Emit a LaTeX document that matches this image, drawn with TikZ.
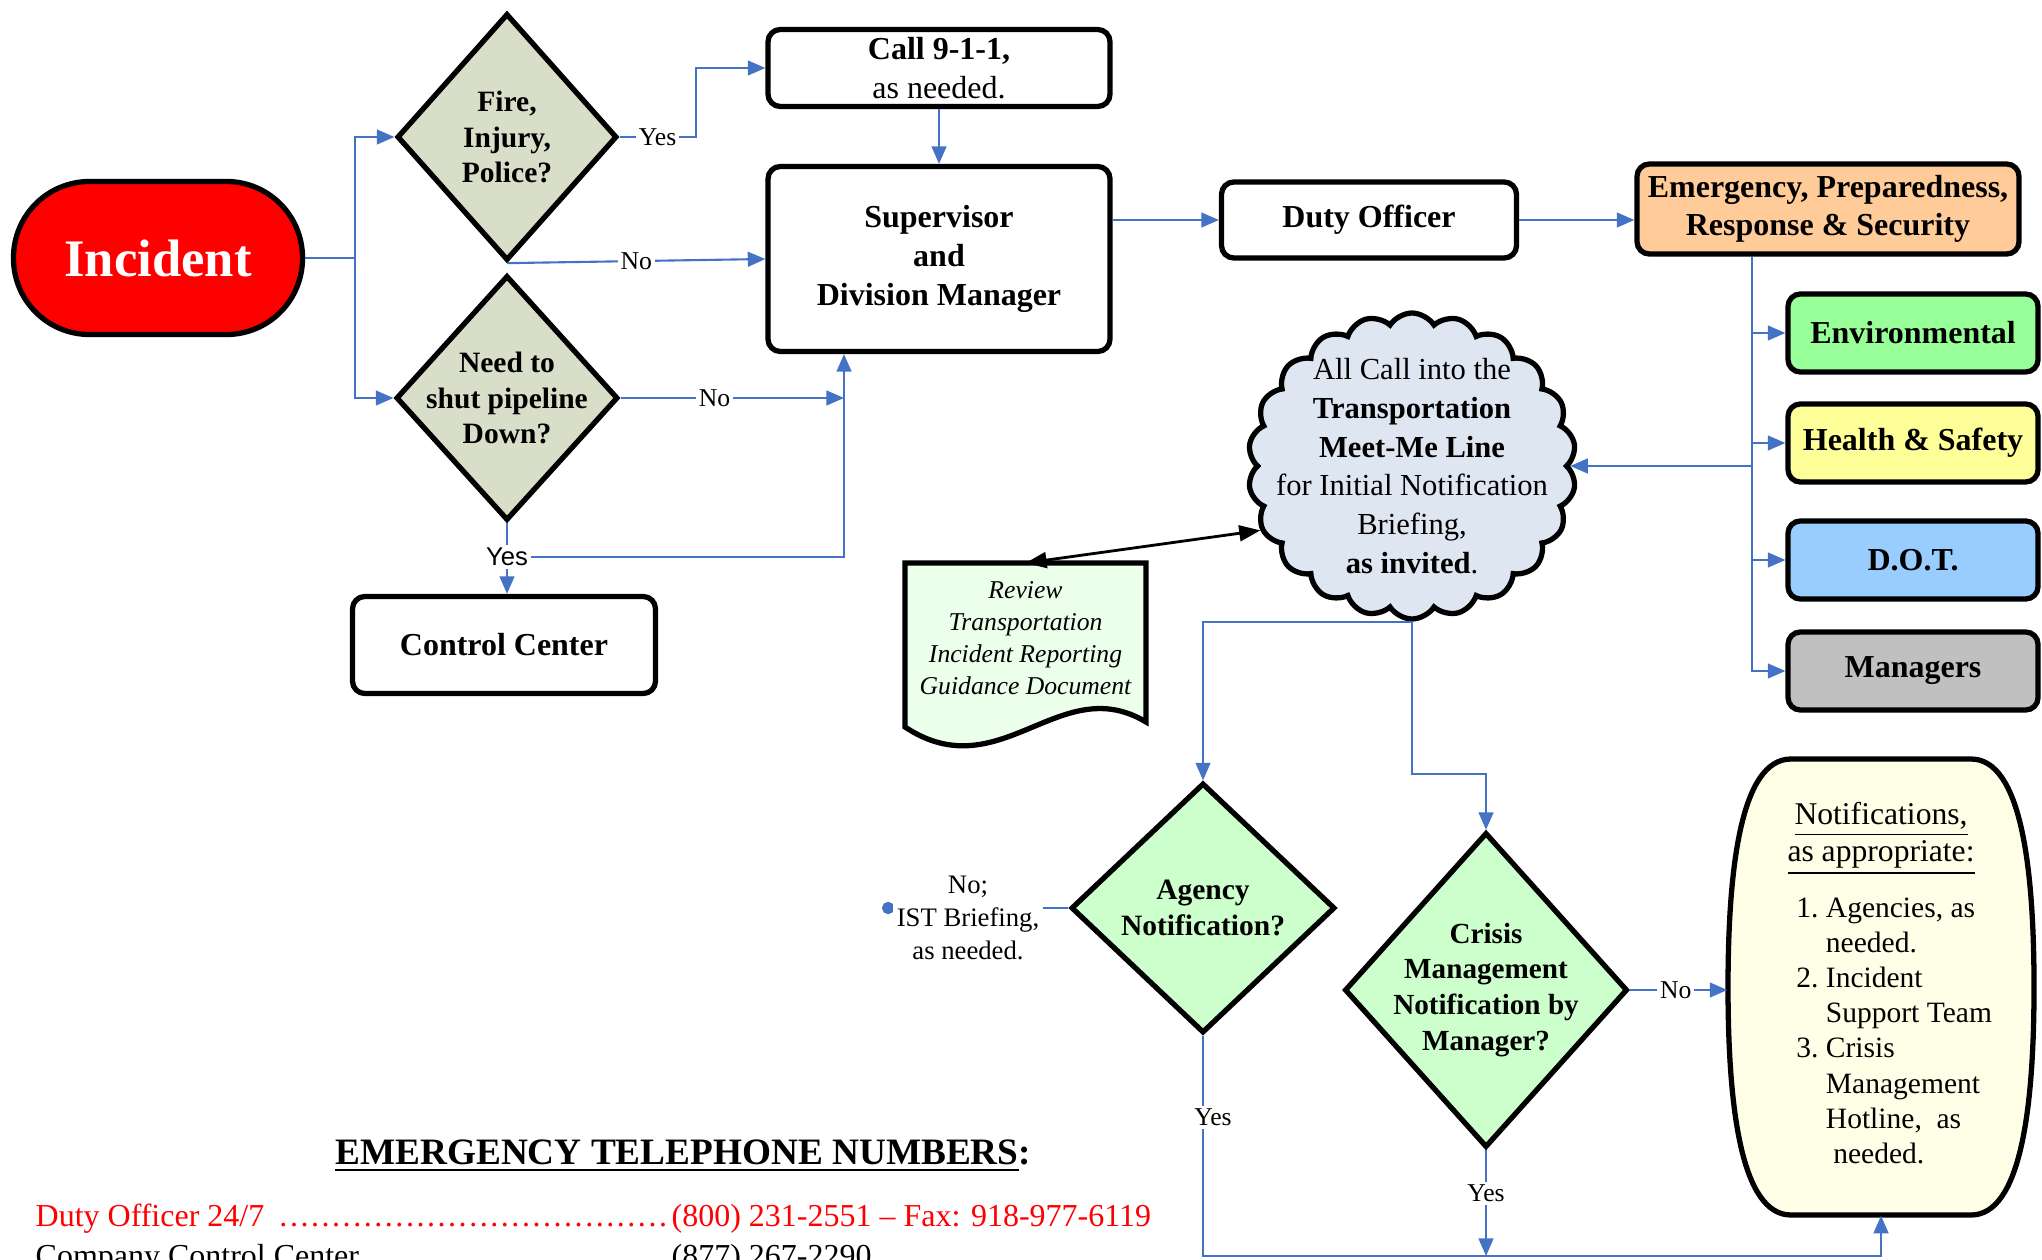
\documentclass[tikz,border=0pt]{standalone}
\usepackage{fontspec}
\setmainfont{Liberation Serif}
\setsansfont{Liberation Sans}
\usepackage{tikz}
\usetikzlibrary{arrows.meta, shapes.geometric, shapes.symbols}
\usepackage{xcolor}

\definecolor{linkblue}{RGB}{68,114,196}
\definecolor{sagefill}{RGB}{217,222,200}
\definecolor{mintfill}{RGB}{204,255,204}
\definecolor{peachfill}{RGB}{255,204,153}
\definecolor{envfill}{RGB}{153,255,153}
\definecolor{hsfill}{RGB}{255,255,153}
\definecolor{skyfill}{RGB}{153,204,255}
\definecolor{mgrfill}{RGB}{192,192,192}
\definecolor{cloudfill}{RGB}{222,230,242}
\definecolor{docfill}{RGB}{235,255,235}
\definecolor{notefill}{RGB}{255,255,232}

\newcommand{\fsz}[2]{\fontsize{#1}{#2}\selectfont}

\begin{document}
\begin{tikzpicture}[
    box/.style={draw, line width=1.5pt, rounded corners=3.5pt, align=center, font=\bfseries\fsz{9.1}{11}},
    dia/.style={diamond, draw, line width=1.5pt, inner sep=0pt},
    dtext/.style={align=center, font=\bfseries\fsz{8.4}{10.1}},
    conn/.style={draw=linkblue, line width=0.6pt},
    arr/.style={conn, -{Triangle[length=5pt,width=4.2pt]}},
    dblarr/.style={draw=black, line width=0.8pt, {Triangle[length=6pt,width=4.5pt]}-{Triangle[length=6pt,width=4.5pt]}},
    lbl/.style={fill=white, inner sep=0.8pt, font=\fsz{7.3}{8}}
]
        \useasboundingbox (0,0) rectangle (20.42,-12.59);
        \fill[white] (0,0) rectangle (20.42,-12.59); % page

        % Start
        \node[box, rounded corners=0.76cm, fill=red, text=white, minimum width=2.89cm, minimum height=1.53cm, font=\bfseries\fsz{15}{17}] (incident) at (1.58,-2.58) {Incident};

        % First questions
        \node[dia, fill=sagefill, minimum width=2.2cm, minimum height=2.47cm] (fire) at (5.07,-1.37) {};
        \node[dtext] (firetxt) at (fire) {Fire,\\Injury,\\Police?};
        \node[dia, fill=sagefill, minimum width=2.22cm, minimum height=2.45cm] (need) at (5.07,-3.98) {};
        \node[dtext] (needtxt) at (need) {Need to\\shut pipeline\\Down?};

        % Call chain
        \node[box, minimum width=3.42cm, minimum height=0.77cm, inner ysep=0pt] (call) at (9.39,-0.68) {Call 9-1-1,\\\mdseries as needed.};
        \node[box, minimum width=3.42cm, minimum height=1.85cm] (sup) at (9.39,-2.59) {Supervisor\\and\\Division Manager};
        \node[box, minimum width=2.95cm, minimum height=0.76cm] (duty) at (13.69,-2.20) {Duty Officer};
        \node[box, fill=peachfill, minimum width=3.82cm, minimum height=0.90cm, inner sep=1pt] (emg) at (18.28,-2.09) {Emergency, Preparedness,\\Response \& Security};
        \node[box, minimum width=3.03cm, minimum height=0.97cm] (cc) at (5.04,-6.45) {Control Center};

        % Departments
        \node[box, fill=envfill, minimum width=2.5cm, minimum height=0.78cm] (envbox) at (19.13,-3.33) {Environmental};
        \node[box, fill=hsfill, minimum width=2.5cm, minimum height=0.78cm] (hsbox) at (19.13,-4.43) {Health \& Safety};
        \node[box, fill=skyfill, minimum width=2.5cm, minimum height=0.78cm] (dotbox) at (19.13,-5.60) {D.O.T.};
        \node[box, fill=mgrfill, minimum width=2.5cm, minimum height=0.78cm] (mgrbox) at (19.13,-6.71) {Managers};

        % Meet-Me line
        \node[cloud, cloud puffs=22, cloud puff arc=115, draw, line width=1.5pt, fill=cloudfill, minimum width=3.28cm, minimum height=3.06cm, inner sep=0pt] (meetme) at (14.12,-4.66) {};
        \node[align=center, font=\fsz{8.7}{11}] (meettxt) at (meetme) {All Call into the\\\textbf{Transportation}\\\textbf{Meet-Me Line}\\for Initial Notification\\Briefing,\\\textbf{as invited}.};

        % Guidance document
        \draw[line width=1.5pt, fill=docfill] (9.05,-5.63) -- (11.46,-5.63) -- (11.46,-7.22) .. controls (10.6,-6.7) and (10.0,-7.9) .. (9.05,-7.27) -- cycle;
        \node[anchor=north, minimum width=2.41cm, inner ysep=5pt, align=center, font=\itshape\fsz{7.3}{9.1}] (doc) at (10.255,-5.63) {Review\\Transportation\\Incident Reporting\\Guidance Document};

        % Second questions
        \node[dia, fill=mintfill, minimum width=2.64cm, minimum height=2.5cm] (agency) at (12.03,-9.08) {};
        \node[dtext] (agencytxt) at (agency) {Agency\\Notification?};
        \node[dia, fill=mintfill, minimum width=2.83cm, minimum height=3.15cm] (crisis) at (14.86,-9.90) {};
        \node[dtext, font=\bfseries\fsz{8.3}{10.2}] (crisistxt) at (crisis) {Crisis\\Management\\Notification by\\Manager?};

        % Notifications list
        \draw[line width=1.5pt, fill=notefill, shift={(18.81,-9.87)}] (-0.9,2.28) -- (0.9,2.28) .. controls (1.4,2.28) and (1.53,1.2) .. (1.53,0) .. controls (1.53,-1.2) and (1.4,-2.28) .. (0.9,-2.28) -- (-0.9,-2.28) .. controls (-1.4,-2.28) and (-1.53,-1.2) .. (-1.53,0) .. controls (-1.53,1.2) and (-1.4,2.28) .. (-0.9,2.28) -- cycle;
        \node[minimum width=3.06cm, minimum height=4.56cm] (notif) at (18.81,-9.87) {};
        \node[font=\fsz{8.4}{10}] (notiftxt) at (notif) {%
          \begin{tabular}{@{\hspace{0.3cm}}r@{\ }l@{}}
          \multicolumn{2}{c}{\fsz{9}{10.7}\underline{Notifications,}}\\
          \multicolumn{2}{c}{\fsz{9}{10.7}\underline{as appropriate:}}\\[6pt]
          1. & Agencies, as\\
             & needed.\\
          2. & Incident\\
             & Support Team\\
          3. & Crisis\\
             & Management\\
             & Hotline,~ as\\
             & \ needed.
          \end{tabular}};

        % Incident to the first questions
        \draw[arr] (incident.east) -- ++(0.5,0) |- (fire.west);
        \draw[arr] (incident.east) -- ++(0.5,0) |- (need.west);

        % Fire, Injury, Police?
        \draw[arr] (fire.east) -- node[lbl] (yesfire) {Yes} ++(0.76,0) |- (call.west);
        \draw[arr] (fire.south) -- node[lbl] (nofire) {No} (sup.west);

        % Need to shut pipeline down?
        \coordinate (supin) at ([xshift=-0.95cm]sup.south);
        \draw[arr] (need.east) -- node[lbl, pos=0.42] (noneed) {No} (need.east -| supin);
        \coordinate (yesneed) at (need.south |- 0,-5.57);
        \draw[conn] (need.south) -- (yesneed);
        \draw[arr] (yesneed) -- (yesneed |- cc.north);
        \draw[arr] (yesneed) -| (supin);
        \node[lbl, font=\sffamily\fsz{7.3}{8}] (yestag) at (yesneed) {Yes};

        % Supervisor to Duty Officer to EPRS
        \draw[arr] (call.south) -- (sup.north);
        \draw[arr] (sup.east |- duty.west) -- (duty.west);
        \draw[arr] (duty.east) -- (duty.east -| emg.west);

        % EPRS branches
        \coordinate (emgdown) at ([xshift=-0.76cm]emg.south);
        \foreach \dept in {envbox, hsbox, dotbox, mgrbox}
          \draw[arr] (emgdown) |- (\dept.west);
        \draw[arr] (emgdown |- meetme.east) -- (meetme.east);

        % Meet-Me line to document and questions
        \draw[dblarr] (doc.north) -- (meetme.203);
        \draw[arr] (meetme.south) -| (agency.north);
        \draw[arr] (meetme.south) -- (meetme.south |- 0,-7.74) -| (crisis.north);

        % Agency Notification?
        \coordinate (istdot) at (8.82,-9.08);
        \draw[conn, -{Circle[length=3.5pt]}] (agency.west) -- (istdot);
        \node[font=\fsz{7.6}{9.3}, align=center, fill=white, inner sep=1pt] (isttxt) at (9.68,-9.18) {No;\\IST Briefing,\\as needed.};
        \draw[arr] (agency.south) -- node[lbl, pos=0.37, xshift=0.1cm] (yesagency) {Yes} (agency.south |- 0,-12.56) -| (notif.south);

        % Crisis Management Notification?
        \draw[arr] (crisis.south) -- node[lbl, pos=0.41] (yescrisis) {Yes} (crisis.south |- 0,-12.56);
        \draw[arr] (crisis.east) -- node[lbl, pos=0.47] (nocrisis) {No} (crisis.east -| notif.west);

        % Telephone numbers
        \node[anchor=west, font=\bfseries\fsz{10.6}{12}] (phonehead) at (3.23,-11.56) {\underline{EMERGENCY TELEPHONE NUMBERS}:};
        \node[anchor=west, text=red, font=\fsz{9.1}{11}, inner sep=0pt] (dutyline) at (0.35,-12.19) {\makebox[6.36cm][l]{Duty Officer 24/7 \leaders\hbox to 3pt{\hss.\hss}\hfill}(800) 231-2551 – Fax: 918-977-6119};
        \node[anchor=base west, font=\fsz{9.1}{11}, inner sep=0pt] (ccline) at (0.35,-12.66) {Company Control Center};
        \node[anchor=base west, font=\fsz{9.1}{11}, inner sep=0pt] (ccnum) at (6.71,-12.66) {(877) 267-2290};
\end{tikzpicture}
\end{document}
